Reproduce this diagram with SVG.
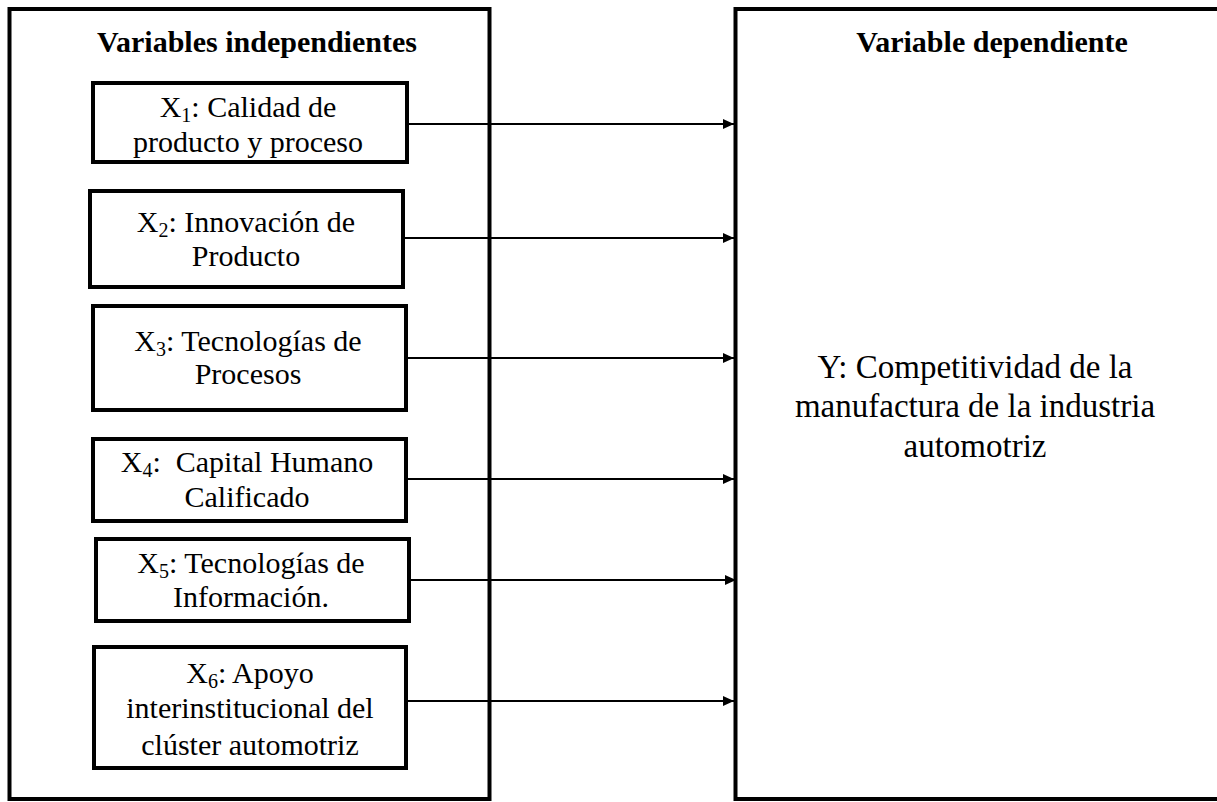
<svg xmlns="http://www.w3.org/2000/svg" width="1217" height="802" viewBox="0 0 1217 802">
<style>
.frame{fill:none;stroke:#000;stroke-width:4}
.box{fill:#fff;stroke:#000;stroke-width:4}
.t{font-family:"Liberation Serif","Times New Roman",serif;font-size:30px;fill:#000;text-anchor:middle}
.h{font-family:"Liberation Serif","Times New Roman",serif;font-size:30px;font-weight:bold;fill:#000;text-anchor:middle}
.y{font-family:"Liberation Serif","Times New Roman",serif;font-size:33px;fill:#000;text-anchor:middle}
.sub{font-size:20px}
.conn{stroke:#000;stroke-width:2;fill:none}
</style>
<defs>
<marker id="arr" markerWidth="12" markerHeight="10" refX="11" refY="5" orient="auto" markerUnits="userSpaceOnUse">
<path d="M0,0 L11,5 L0,10 Z" fill="#000"/>
</marker>
</defs>
<rect width="1217" height="802" fill="#fff"/>
<g id="independientes">
<rect class="frame" x="9.5" y="9" width="480" height="790"/>
<text class="h" x="257" y="52">Variables independientes</text>
</g>
<g id="dependiente">
<rect class="frame" x="735.5" y="9" width="500" height="790"/>
<text class="h" x="992" y="52">Variable dependiente</text>
<text class="y" x="975" y="378">Y: Competitividad de la</text>
<text class="y" x="975" y="417">manufactura de la industria</text>
<text class="y" x="975" y="457">automotriz</text>
</g>
<g id="x1">
<rect class="box" x="93" y="83" width="314" height="79"/>
<text class="t" x="248" y="117">X<tspan class="sub" dy="5">1</tspan><tspan dy="-5">: Calidad de</tspan></text>
<text class="t" x="248" y="152">producto y proceso</text>
</g>
<g id="x2">
<rect class="box" x="90" y="191" width="313" height="96"/>
<text class="t" x="246" y="232">X<tspan class="sub" dy="5">2</tspan><tspan dy="-5">: Innovación de</tspan></text>
<text class="t" x="246" y="266">Producto</text>
</g>
<g id="x3">
<rect class="box" x="93" y="306" width="313" height="104"/>
<text class="t" x="248" y="351">X<tspan class="sub" dy="5">3</tspan><tspan dy="-5">: Tecnologías de</tspan></text>
<text class="t" x="248" y="384">Procesos</text>
</g>
<g id="x4">
<rect class="box" x="93" y="439" width="313" height="82"/>
<text class="t" x="247" y="472">X<tspan class="sub" dy="5">4</tspan><tspan dy="-5">:&#160; Capital Humano</tspan></text>
<text class="t" x="247" y="507">Calificado</text>
</g>
<g id="x5">
<rect class="box" x="96" y="539" width="313" height="82"/>
<text class="t" x="251" y="573">X<tspan class="sub" dy="5">5</tspan><tspan dy="-5">: Tecnologías de</tspan></text>
<text class="t" x="251" y="607">Información.</text>
</g>
<g id="x6">
<rect class="box" x="94" y="647" width="312" height="121"/>
<text class="t" x="250" y="683">X<tspan class="sub" dy="5">6</tspan><tspan dy="-5">: Apoyo</tspan></text>
<text class="t" x="250" y="718">interinstitucional del</text>
<text class="t" x="250" y="755">clúster automotriz</text>
</g>
<g id="connectors">
<line class="conn" x1="407" y1="124" x2="734" y2="124" marker-end="url(#arr)"/>
<line class="conn" x1="403" y1="238" x2="734" y2="238" marker-end="url(#arr)"/>
<line class="conn" x1="406" y1="358" x2="734" y2="358" marker-end="url(#arr)"/>
<line class="conn" x1="406" y1="479" x2="734" y2="479" marker-end="url(#arr)"/>
<line class="conn" x1="409" y1="580" x2="736" y2="580" marker-end="url(#arr)"/>
<line class="conn" x1="406" y1="701" x2="734" y2="701" marker-end="url(#arr)"/>
</g>
</svg>
